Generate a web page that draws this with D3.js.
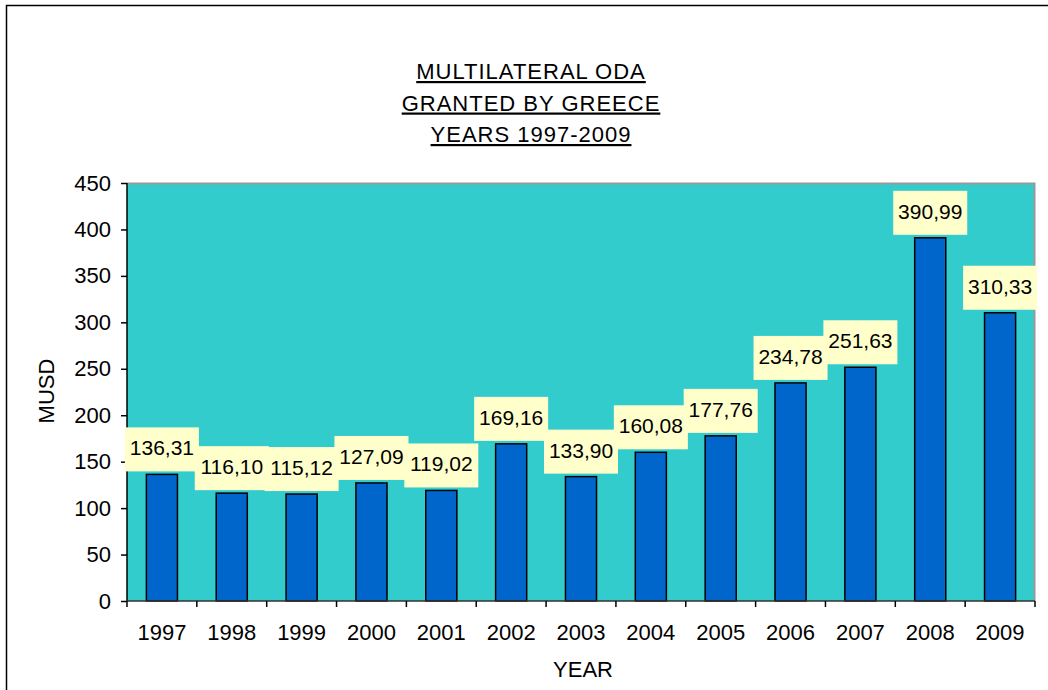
<!DOCTYPE html>
<html>
<head>
<meta charset="utf-8">
<script src="https://cdn.jsdelivr.net/npm/d3@7"></script>
<style>
  body { margin: 0; background: #fff; }
  text { font-family: "Liberation Sans", Arial, sans-serif; fill: #000; }
</style>
</head>
<body>
<div id="chart"></div>
<script>
var years = ["1997", "1998", "1999", "2000", "2001", "2002", "2003", "2004", "2005", "2006", "2007", "2008", "2009"];
var musd = [136.31, 116.10, 115.12, 127.09, 119.02, 169.16, 133.90, 160.08, 177.76, 234.78, 251.63, 390.99, 310.33];
var yTicks = [0, 50, 100, 150, 200, 250, 300, 350, 400, 450];
var titleLines = ["MULTILATERAL ODA", "GRANTED BY GREECE", "YEARS 1997-2009"];

var W = 1048, H = 690;
var plot = { left: 127, top: 183, right: 1035, bottom: 601 };

var svg = d3.select("#chart").append("svg")
    .attr("width", W)
    .attr("height", H);

// outer chart border (only top and left are in view)
svg.append("rect")
    .attr("x", 6.5).attr("y", 5.5)
    .attr("width", W + 20).attr("height", H + 20)
    .attr("fill", "#fff")
    .attr("stroke", "#000")
    .attr("stroke-width", 1.5);

var x = d3.scaleBand()
    .domain(years)
    .range([plot.left, plot.right])
    .paddingInner(0.555)
    .paddingOuter(0.2775);

var xBand = d3.scaleBand().domain(years).range([plot.left, plot.right]);

var y = d3.scaleLinear()
    .domain([0, 450])
    .range([plot.bottom, plot.top]);

// plot background
svg.append("rect")
    .attr("x", plot.left).attr("y", plot.top)
    .attr("width", plot.right - plot.left)
    .attr("height", plot.bottom - plot.top)
    .attr("fill", "#33CCCC");

// gray frame top / right
svg.append("path")
    .attr("d", "M" + plot.left + "," + (plot.top + 0.5) + "H" + (plot.right - 0.5) + "V" + plot.bottom)
    .attr("fill", "none")
    .attr("stroke", "#999")
    .attr("stroke-width", 2);

// bars
svg.append("g").selectAll("rect")
    .data(musd)
    .join("rect")
    .attr("x", (d, i) => x(years[i]))
    .attr("y", d => y(d))
    .attr("width", x.bandwidth())
    .attr("height", d => y(0) - y(d))
    .attr("fill", "#0066CC")
    .attr("stroke", "#000")
    .attr("stroke-width", 1.5);

// y axis
var yAxis = svg.append("g")
    .attr("transform", "translate(" + plot.left + ",0)")
    .call(d3.axisLeft(y).tickValues(yTicks).tickSize(6).tickPadding(10).tickFormat(d3.format("d")));
yAxis.selectAll("text").style("font-size", "22px");
yAxis.selectAll("line, path").attr("stroke", "#000").attr("stroke-width", 1.5);
yAxis.select(".domain").attr("d", "M0," + plot.top + "V" + plot.bottom);

// x axis with ticks on band boundaries
var xAxis = svg.append("g")
    .attr("transform", "translate(0," + plot.bottom + ")");
xAxis.append("line")
    .attr("x1", plot.left).attr("x2", plot.right)
    .attr("stroke", "#333").attr("stroke-width", 1.5);
xAxis.selectAll(".tk")
    .data(years.concat(["end"]))
    .join("line")
    .attr("class", "tk")
    .attr("x1", (d, i) => i < years.length ? xBand(d) : plot.right)
    .attr("x2", (d, i) => i < years.length ? xBand(d) : plot.right)
    .attr("y1", 0).attr("y2", 6)
    .attr("stroke", "#000").attr("stroke-width", 1.5);
xAxis.selectAll(".lbl")
    .data(years)
    .join("text")
    .attr("class", "lbl")
    .attr("x", d => xBand(d) + xBand.bandwidth() / 2)
    .attr("y", 39)
    .attr("text-anchor", "middle")
    .style("font-size", "22px")
    .text(d => d);

// value labels
var fmt = d => d3.format(".2f")(d).replace(".", ",");
var lab = svg.append("g").selectAll("g")
    .data(musd)
    .join("g")
    .attr("transform", (d, i) => "translate(" + (xBand(years[i]) + xBand.bandwidth() / 2) + "," + (y(d) - 3) + ")");
lab.append("rect")
    .attr("x", -37).attr("y", -44)
    .attr("width", 74).attr("height", 44)
    .attr("fill", "#FFFFCC");
lab.append("text")
    .attr("y", -16)
    .attr("text-anchor", "middle")
    .style("font-size", "21px")
    .text(fmt);

// title
var title = svg.append("g");
titleLines.forEach(function(t, i) {
    title.append("text")
        .attr("x", 531)
        .attr("y", 79 + i * 31.5)
        .attr("text-anchor", "middle")
        .style("font-size", "22px")
        .style("letter-spacing", "1px")
        .style("text-decoration", "underline")
        .text(t);
});

// axis titles
svg.append("text")
    .attr("transform", "translate(54,391) rotate(-90)")
    .attr("text-anchor", "middle")
    .style("font-size", "22px")
    .text("MUSD");

svg.append("text")
    .attr("x", 583)
    .attr("y", 677)
    .attr("text-anchor", "middle")
    .style("font-size", "22px")
    .text("YEAR");
</script>
</body>
</html>
